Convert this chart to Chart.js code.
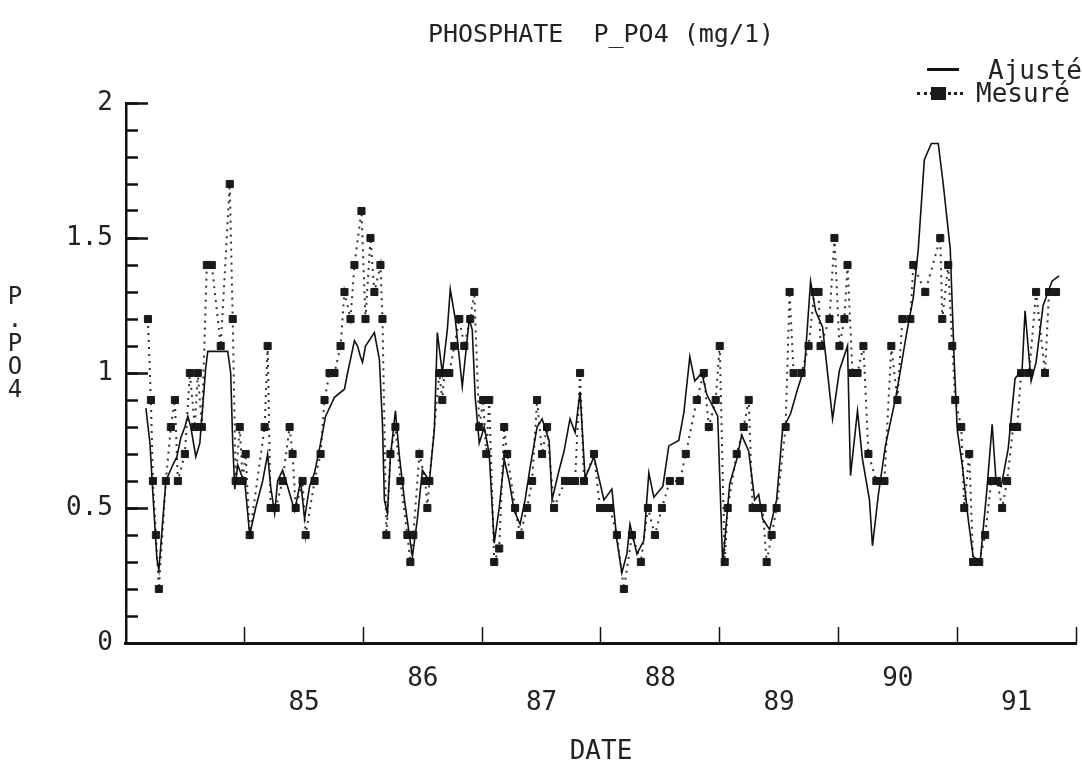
<!DOCTYPE html>
<html>
<head>
<meta charset="utf-8">
<title>Phosphate P_PO4</title>
<script src="https://cdn.jsdelivr.net/npm/chart.js@4.4.1/dist/chart.umd.min.js"></script>
<style>
  body { margin: 0; background: #fff; }
  #wrap { position: relative; width: 1082px; height: 776px; }
  #yTitle { position: absolute; left: 3px; top: 285px; width: 24px; text-align: center;
            font: 24px 'DejaVu Sans Mono', monospace; line-height: 23.3px; color: #222; }
  .lab { position: absolute; font: 26px 'DejaVu Sans Mono', monospace; line-height: 26px; color: #222; white-space: nowrap; }
  .solid { position: absolute; left: 927px; top: 68px; width: 32px; height: 3px; background: #111; }
  .dots { position: absolute; left: 917px; top: 92px; width: 46px; border-top: 3px dotted #222; }
  .square { position: absolute; left: 931px; top: 87px; width: 15px; height: 13px; background: #1a1a1a; }
</style>
</head>
<body>
<div id="wrap">
  <canvas id="chart" width="1082" height="776"></canvas>
  <div id="yTitle">P<br>.<br>P<br>O<br>4</div>
  <span class="solid"></span><span class="lab" style="left:988px;top:57px">Ajusté</span>
  <span class="dots"></span><span class="square"></span><span class="lab" style="left:976px;top:80px">Mesuré</span>
</div>
<script>
// x axis: calendar years, labels in the middle of each year
var yearLabels = ['85', '86', '87', '88', '89', '90', '91'];
var yearMids = [1985.5, 1986.5, 1987.5, 1988.5, 1989.5, 1990.5, 1991.5];
var yearBounds = [1985, 1986, 1987, 1988, 1989, 1990, 1991, 1992];

// measured values (squares)
var mesYears = [
  1984.185, 1984.210, 1984.227, 1984.252, 1984.277, 1984.336, 1984.378, 1984.412, 1984.437, 1984.496, 1984.538,
  1984.580, 1984.605, 1984.639, 1984.681, 1984.723, 1984.798, 1984.874, 1984.899, 1984.924, 1984.958, 1984.983,
  1985.008, 1985.042, 1985.168, 1985.193, 1985.218, 1985.261, 1985.319, 1985.378, 1985.403, 1985.429, 1985.487,
  1985.513, 1985.588, 1985.639, 1985.672, 1985.714, 1985.756, 1985.807, 1985.840, 1985.891, 1985.924, 1985.983,
  1986.017, 1986.059, 1986.092, 1986.143, 1986.160, 1986.193, 1986.227, 1986.269, 1986.311, 1986.370, 1986.395,
  1986.420, 1986.471, 1986.521, 1986.538, 1986.555, 1986.639, 1986.664, 1986.681, 1986.723, 1986.765, 1986.807,
  1986.849, 1986.899, 1986.933, 1986.975,
  1987.008, 1987.034, 1987.059, 1987.101, 1987.143, 1987.185, 1987.210, 1987.277, 1987.319, 1987.378, 1987.420,
  1987.462, 1987.504, 1987.546, 1987.605, 1987.697, 1987.739, 1987.782, 1987.824, 1987.857, 1987.941, 1987.992,
  1988.034, 1988.076, 1988.134, 1988.193, 1988.261, 1988.336, 1988.395, 1988.454, 1988.513, 1988.580, 1988.664,
  1988.714, 1988.807, 1988.866, 1988.908, 1988.966,
  1989.000, 1989.042, 1989.067, 1989.143, 1989.202, 1989.244, 1989.277, 1989.328, 1989.361, 1989.395, 1989.437,
  1989.479, 1989.555, 1989.588, 1989.622, 1989.689, 1989.748, 1989.798, 1989.832, 1989.849, 1989.924, 1989.966,
  1990.008, 1990.050, 1990.076, 1990.118, 1990.160, 1990.210, 1990.252, 1990.319, 1990.387, 1990.445, 1990.496,
  1990.538, 1990.605, 1990.630, 1990.731, 1990.857, 1990.874, 1990.924, 1990.958, 1990.983,
  1991.034, 1991.059, 1991.101, 1991.134, 1991.185, 1991.235, 1991.286, 1991.336, 1991.378, 1991.420, 1991.471,
  1991.504, 1991.538, 1991.605, 1991.664, 1991.739, 1991.773, 1991.832
];
var mesValues = [
  1.2, 0.9, 0.6, 0.4, 0.2, 0.6, 0.8, 0.9, 0.6, 0.7, 1.0,
  0.8, 1.0, 0.8, 1.4, 1.4, 1.1, 1.7, 1.2, 0.6, 0.8, 0.6,
  0.7, 0.4, 0.8, 1.1, 0.5, 0.5, 0.6, 0.8, 0.7, 0.5, 0.6,
  0.4, 0.6, 0.7, 0.9, 1.0, 1.0, 1.1, 1.3, 1.2, 1.4, 1.6,
  1.2, 1.5, 1.3, 1.4, 1.2, 0.4, 0.7, 0.8, 0.6, 0.4, 0.3,
  0.4, 0.7, 0.6, 0.5, 0.6, 1.0, 0.9, 1.0, 1.0, 1.1, 1.2,
  1.1, 1.2, 1.3, 0.8,
  0.9, 0.7, 0.9, 0.3, 0.35, 0.8, 0.7, 0.5, 0.4, 0.5, 0.6,
  0.9, 0.7, 0.8, 0.5, 0.6, 0.6, 0.6, 1.0, 0.6, 0.7, 0.5,
  0.5, 0.5, 0.4, 0.2, 0.4, 0.3, 0.5, 0.4, 0.5, 0.6, 0.6,
  0.7, 0.9, 1.0, 0.8, 0.9,
  1.1, 0.3, 0.5, 0.7, 0.8, 0.9, 0.5, 0.5, 0.5, 0.3, 0.4,
  0.5, 0.8, 1.3, 1.0, 1.0, 1.1, 1.3, 1.3, 1.1, 1.2, 1.5,
  1.1, 1.2, 1.4, 1.0, 1.0, 1.1, 0.7, 0.6, 0.6, 1.1, 0.9,
  1.2, 1.2, 1.4, 1.3, 1.5, 1.2, 1.4, 1.1, 0.9,
  0.8, 0.5, 0.7, 0.3, 0.3, 0.4, 0.6, 0.6, 0.5, 0.6, 0.8,
  0.8, 1.0, 1.0, 1.3, 1.0, 1.3, 1.3
];

// fitted curve
var ajYears = [
  1984.168, 1984.202, 1984.227, 1984.261, 1984.277, 1984.311, 1984.336, 1984.395, 1984.429, 1984.462, 1984.496,
  1984.521, 1984.546, 1984.588, 1984.622, 1984.647, 1984.672, 1984.689, 1984.857, 1984.882, 1984.899, 1984.916,
  1984.941, 1984.983,
  1985.000, 1985.042, 1985.092, 1985.151, 1985.193, 1985.218, 1985.252, 1985.277, 1985.319, 1985.361, 1985.420,
  1985.471, 1985.504, 1985.546, 1985.588, 1985.639, 1985.681, 1985.756, 1985.840, 1985.866, 1985.924, 1985.950,
  1985.975, 1985.992,
  1986.017, 1986.092, 1986.134, 1986.160, 1986.176, 1986.202, 1986.227, 1986.269, 1986.303, 1986.345, 1986.412,
  1986.454, 1986.496, 1986.555, 1986.597, 1986.622, 1986.664, 1986.706, 1986.731, 1986.773, 1986.832, 1986.891,
  1986.916, 1986.941, 1986.975,
  1987.017, 1987.059, 1987.101, 1987.143, 1987.185, 1987.227, 1987.269, 1987.319, 1987.361, 1987.403, 1987.462,
  1987.504, 1987.563, 1987.588, 1987.647, 1987.689, 1987.739, 1987.782, 1987.824, 1987.866, 1987.941,
  1988.025, 1988.092, 1988.134, 1988.176, 1988.218, 1988.244, 1988.303, 1988.361, 1988.403, 1988.445, 1988.521,
  1988.571, 1988.655, 1988.697, 1988.748, 1988.790, 1988.849, 1988.891, 1988.983,
  1989.025, 1989.084, 1989.143, 1989.185, 1989.244, 1989.294, 1989.328, 1989.361, 1989.420, 1989.479, 1989.529,
  1989.597, 1989.655, 1989.714, 1989.765, 1989.807, 1989.866, 1989.950,
  1990.008, 1990.076, 1990.101, 1990.160, 1990.202, 1990.261, 1990.286, 1990.336, 1990.395, 1990.487, 1990.571,
  1990.630, 1990.672, 1990.723, 1990.782, 1990.840, 1990.882, 1990.941, 1990.975,
  1991.000, 1991.042, 1991.092, 1991.134, 1991.193, 1991.252, 1991.294, 1991.328, 1991.370, 1991.429, 1991.487,
  1991.546, 1991.571, 1991.622, 1991.664, 1991.723, 1991.798, 1991.857
];
var ajValues = [
  0.87, 0.74, 0.55, 0.31, 0.27, 0.46, 0.60, 0.66, 0.69, 0.76, 0.80,
  0.84, 0.80, 0.69, 0.74, 0.88, 1.02, 1.08, 1.08, 1.00, 0.74, 0.57,
  0.66, 0.61,
  0.60, 0.40, 0.50, 0.60, 0.70, 0.58, 0.48, 0.60, 0.64, 0.58, 0.49,
  0.60, 0.46, 0.58, 0.63, 0.74, 0.84, 0.91, 0.94, 1.00, 1.12, 1.10,
  1.06, 1.04,
  1.10, 1.15, 1.05, 0.81, 0.53, 0.48, 0.69, 0.86, 0.69, 0.53, 0.32,
  0.46, 0.64, 0.60, 0.79, 1.15, 1.00, 1.16, 1.31, 1.20, 0.95, 1.20,
  1.16, 0.91, 0.74,
  0.80, 0.70, 0.37, 0.50, 0.68, 0.60, 0.49, 0.44, 0.53, 0.65, 0.80,
  0.83, 0.75, 0.53, 0.64, 0.71, 0.83, 0.78, 0.93, 0.61, 0.69,
  0.53, 0.57, 0.38, 0.26, 0.33, 0.44, 0.33, 0.38, 0.63, 0.54, 0.58,
  0.73, 0.75, 0.85, 1.06, 0.97, 1.00, 0.92, 0.84,
  0.29, 0.59, 0.68, 0.77, 0.71, 0.53, 0.55, 0.46, 0.42, 0.53, 0.79,
  0.85, 0.94, 1.02, 1.34, 1.23, 1.17, 0.83,
  1.01, 1.10, 0.62, 0.86, 0.68, 0.53, 0.36, 0.55, 0.73, 0.92, 1.14,
  1.28, 1.46, 1.79, 1.85, 1.85, 1.70, 1.46, 1.04,
  0.79, 0.66, 0.46, 0.32, 0.30, 0.58, 0.81, 0.59, 0.58, 0.72, 0.98,
  1.01, 1.23, 0.97, 1.04, 1.25, 1.34, 1.36
];

var FONT = 'DejaVu Sans Mono';
var INK = '#222';

function points(xs, ys) {
  return xs.map(function (x, i) { return { x: x, y: ys[i] }; });
}

new Chart(document.getElementById('chart'), {
  type: 'line',
  data: {
    datasets: [
      {
        label: 'Ajusté',
        data: points(ajYears, ajValues),
        xAxisID: 'x', yAxisID: 'y',
        borderColor: '#111',
        borderWidth: 1.6,
        pointRadius: 0,
        tension: 0
      },
      {
        label: 'Mesuré',
        data: points(mesYears, mesValues),
        xAxisID: 'x', yAxisID: 'y',
        borderColor: '#333',
        borderWidth: 2,
        borderDash: [2, 5],
        pointStyle: 'rect',
        pointRadius: 5,
        pointBorderWidth: 1,
        pointBackgroundColor: '#1a1a1a',
        pointBorderColor: '#1a1a1a',
        tension: 0
      }
    ]
  },
  options: {
    responsive: false,
    animation: false,
    layout: { padding: { left: 31, right: 2, top: 0, bottom: 0 } },
    plugins: {
      legend: { display: false },
      tooltip: { enabled: false },
      title: {
        display: true,
        text: 'PHOSPHATE  P_PO4 (mg/1)',
        fullSize: false,
        color: INK,
        font: { family: FONT, size: 25, weight: 'normal', lineHeight: 1.2 },
        padding: { top: 20, bottom: 53 }
      }
    },
    scales: {
      x: {
        type: 'linear',
        position: 'bottom',
        min: 1984, max: 1992,
        afterBuildTicks: function (scale) {
          scale.ticks = yearMids.map(function (v) { return { value: v }; });
        },
        ticks: {
          autoSkip: false, maxRotation: 0, padding: 24, color: INK,
          font: { family: FONT, size: 26, lineHeight: '24px' },
          // staggered labels like the plotter output
          callback: function (v, i) { return i % 2 === 0 ? ['', yearLabels[i]] : yearLabels[i]; }
        },
        grid: { display: false, drawTicks: false },
        border: { display: true, color: '#111', width: 3 },
        title: {
          display: true, text: 'DATE', color: INK,
          font: { family: FONT, size: 26, lineHeight: 1 },
          padding: { top: 0, bottom: 11 }
        }
      },
      xTicks: {
        type: 'linear',
        position: { y: 0 },
        min: 1984, max: 1992,
        afterBuildTicks: function (scale) {
          scale.ticks = yearBounds.map(function (v) { return { value: v }; });
        },
        ticks: { display: false },
        grid: { drawOnChartArea: false, tickLength: -16, tickWidth: 1.5, tickColor: '#111' },
        border: { display: false }
      },
      y: {
        position: 'left',
        min: 0, max: 2,
        ticks: {
          stepSize: 0.5, padding: 35, color: INK, font: { family: FONT, size: 26 },
          callback: function (v) { return String(v); }
        },
        grid: { drawOnChartArea: false, tickLength: -22, tickWidth: 2.5, tickColor: '#111' },
        border: { display: true, color: '#111', width: 2.5 }
      },
      yMinor: {
        position: { x: 1984 },
        min: 0, max: 2,
        ticks: { display: false, stepSize: 0.1 },
        grid: { drawOnChartArea: false, tickLength: -12, tickWidth: 2.5, tickColor: '#111' },
        border: { display: false }
      }
    }
  }
});
</script>
</body>
</html>
